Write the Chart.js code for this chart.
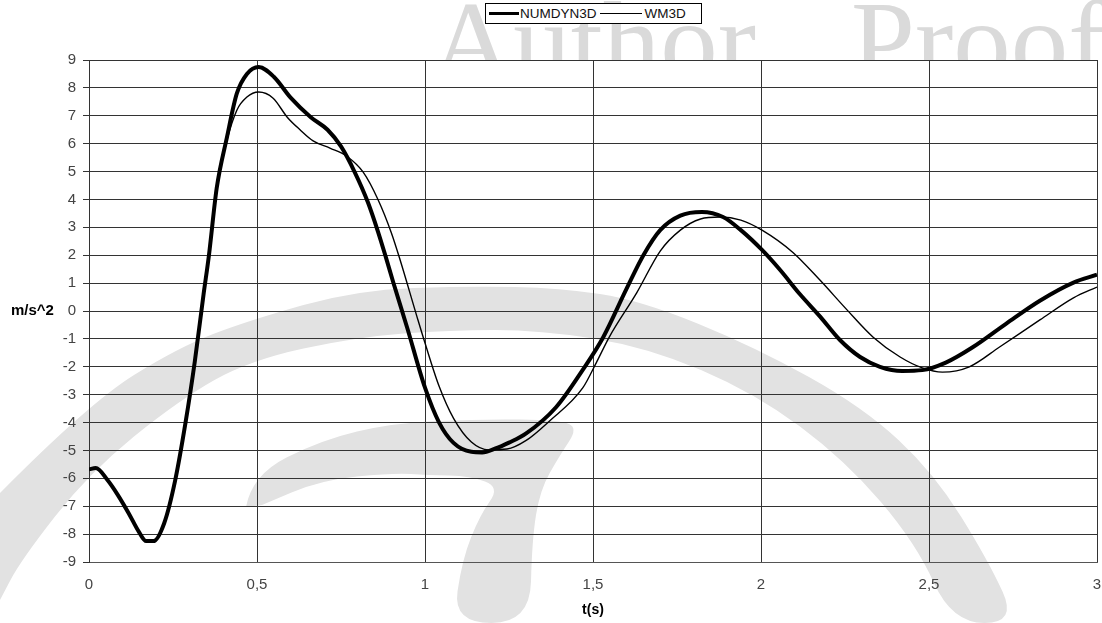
<!DOCTYPE html>
<html>
<head>
<meta charset="utf-8">
<script src="https://cdn.jsdelivr.net/npm/chart.js@4.4.1/dist/chart.umd.min.js"></script>
<style>
  body { margin: 0; background: #fff; }
  #wrap { position: relative; width: 1102px; height: 623px; }
  #legend {
    position: absolute; left: 485px; top: 3px; width: 217px; height: 21px;
    border: 1px solid #000; background: #fff; box-sizing: border-box;
    font: 13.5px "Liberation Sans", Arial, sans-serif; color: #111;
    display: flex; align-items: center; padding-left: 3px; white-space: nowrap;
  }
  .lg-line { display: inline-block; width: 30px; background: #000; margin-right: 1px; }
</style>
</head>
<body>
<div id="wrap">
  <canvas id="chart" width="1102" height="623"></canvas>
  <div id="legend">
    <span class="lg-line" style="height:3px"></span>NUMDYN3D
    <span class="lg-line" style="height:1px;width:42px;margin-left:3px;margin-right:3px"></span>WM3D
  </div>
</div>
<script>
// Data: waktu (s) dan percepatan (m/s^2)
const numdynT = [0, 0.02, 0.055, 0.086, 0.118, 0.149, 0.17, 0.192, 0.224, 0.256, 0.288, 0.315, 0.341, 0.357, 0.38, 0.41, 0.44, 0.47, 0.505, 0.55, 0.6, 0.66, 0.71, 0.75, 0.79, 0.83, 0.86, 0.883, 0.905, 0.947, 1.0, 1.042, 1.085, 1.138, 1.17, 1.21, 1.25, 1.3, 1.39, 1.47, 1.53, 1.6, 1.65, 1.7, 1.76, 1.824, 1.887, 1.94, 2.003, 2.057, 2.116, 2.176, 2.235, 2.295, 2.354, 2.42, 2.48, 2.55, 2.63, 2.73, 2.83, 2.93, 3.0];
const numdynA = [-5.68, -5.63, -6.06, -6.6, -7.25, -7.93, -8.25, -8.25, -7.6, -6.1, -3.95, -1.8, 0.6, 2.0, 4.4, 6.2, 7.8, 8.5, 8.75, 8.4, 7.65, 6.95, 6.5, 5.9, 5.0, 3.9, 2.85, 1.95, 1.05, -0.6, -2.75, -4.0, -4.73, -5.05, -5.07, -4.93, -4.72, -4.4, -3.45, -2.1, -0.95, 0.8, 2.0, 2.9, 3.42, 3.55, 3.37, 2.9, 2.19, 1.47, 0.6, -0.2, -1.04, -1.65, -2.0, -2.15, -2.12, -1.85, -1.3, -0.45, 0.37, 1.02, 1.3];

const wm3dT = [0, 0.02, 0.055, 0.086, 0.118, 0.149, 0.17, 0.192, 0.224, 0.256, 0.288, 0.315, 0.341, 0.357, 0.38, 0.41, 0.44, 0.47, 0.505, 0.548, 0.59, 0.628, 0.667, 0.717, 0.767, 0.816, 0.86, 0.9, 0.926, 0.976, 1.0, 1.042, 1.085, 1.138, 1.19, 1.244, 1.3, 1.37, 1.47, 1.51, 1.55, 1.63, 1.7, 1.76, 1.82, 1.878, 1.94, 2.003, 2.095, 2.176, 2.256, 2.333, 2.414, 2.48, 2.54, 2.62, 2.71, 2.83, 2.93, 3.0];
const wm3dA = [-5.68, -5.63, -6.06, -6.6, -7.25, -7.93, -8.25, -8.25, -7.6, -6.1, -3.95, -1.8, 0.6, 2.0, 4.4, 6.1, 7.2, 7.67, 7.85, 7.63, 6.95, 6.5, 6.1, 5.84, 5.55, 4.98, 4.0, 2.8, 1.83, -0.2, -1.15, -2.7, -3.85, -4.7, -4.98, -4.95, -4.65, -3.95, -2.75, -1.85, -0.9, 0.65, 2.15, 2.9, 3.3, 3.37, 3.26, 2.9, 2.1, 1.1, 0.04, -0.93, -1.65, -2.04, -2.19, -2.0, -1.29, -0.32, 0.47, 0.86];

const xTicks = [0, 0.5, 1, 1.5, 2, 2.5, 3];
const yMin = -9, yMax = 9;

function toPoints(ts, vs) {
  return ts.map((t, i) => ({ x: t, y: vs[i] }));
}

// Path halus lewat titik-titik (untuk watermark)
function smoothShape(ctx, pts) {
  ctx.beginPath();
  ctx.moveTo(pts[0][0], pts[0][1]);
  for (let i = 1; i < pts.length - 1; i++) {
    const mx = (pts[i][0] + pts[i + 1][0]) / 2;
    const my = (pts[i][1] + pts[i + 1][1]) / 2;
    ctx.quadraticCurveTo(pts[i][0], pts[i][1], mx, my);
  }
  const last = pts[pts.length - 1];
  ctx.lineTo(last[0], last[1]);
  ctx.closePath();
  ctx.fill();
}

// Watermark "Author Proof" + lengkungan abu-abu
const watermark = {
  id: 'watermark',
  beforeDraw(chart) {
    const ctx = chart.ctx;
    ctx.save();
    ctx.fillStyle = '#e2e2e2';
    smoothShape(ctx, [
      [0, 493], [89, 403], [179, 347], [250, 320], [357, 290], [470, 286], [560, 288], [640, 300],
      [755, 347], [863, 407], [934, 473], [988, 560], [1017, 623],
      [952, 623], [916, 543], [845, 460], [755, 393], [647, 347], [540, 330], [450, 330],
      [357, 337], [250, 360], [179, 400], [89, 473], [21, 560], [0, 600]
    ]);
    smoothShape(ctx, [
      [246, 507], [252, 475], [321, 440], [393, 423], [480, 419], [560, 420], [578, 428],
      [560, 455], [540, 490], [532, 540], [530, 623], [453, 623], [462, 560], [480, 515],
      [500, 487], [470, 476], [428, 475], [393, 473], [321, 480], [262, 505]
    ]);
    ctx.beginPath();
    ctx.rect(0, 0, chart.width, chart.chartArea.top);
    ctx.clip();
    ctx.fillStyle = '#dadada';
    ctx.font = '115px "Liberation Serif", "Times New Roman", serif';
    ctx.textBaseline = 'alphabetic';
    ctx.textAlign = 'right';
    ctx.fillText('Author', 756, 80);
    ctx.textAlign = 'left';
    ctx.fillText('Proof', 851, 80);
    ctx.restore();
  },
  afterDraw(chart) {
    const ctx = chart.ctx;
    const y0 = chart.scales.y.getPixelForValue(0);
    ctx.save();
    ctx.fillStyle = '#000';
    ctx.font = 'bold 15px "Liberation Sans", Arial, sans-serif';
    ctx.textBaseline = 'middle';
    ctx.textAlign = 'left';
    ctx.fillText('m/s^2', 11, y0);
    ctx.restore();
  }
};

const ctx = document.getElementById('chart').getContext('2d');
new Chart(ctx, {
  type: 'line',
  data: {
    datasets: [
      {
        label: 'NUMDYN3D',
        data: toPoints(numdynT, numdynA),
        borderColor: '#000',
        borderWidth: 4,
        pointRadius: 0,
        cubicInterpolationMode: 'monotone',
        fill: false,
      },
      {
        label: 'WM3D',
        data: toPoints(wm3dT, wm3dA),
        borderColor: '#000',
        borderWidth: 1.4,
        pointRadius: 0,
        cubicInterpolationMode: 'monotone',
        fill: false,
      },
    ],
  },
  options: {
    responsive: false,
    animation: false,
    layout: { padding: { top: 60, right: 5, bottom: 0, left: 0 } },
    plugins: {
      legend: { display: false },
      tooltip: { enabled: false },
    },
    scales: {
      x: {
        type: 'linear',
        min: 0,
        max: 3,
        afterBuildTicks: (axis) => { axis.ticks = xTicks.map(v => ({ value: v })); },
        afterFit: (axis) => {
          axis.height = 61;
          axis.paddingLeft = 0;
          axis.paddingRight = 0;
        },
        ticks: {
          color: '#444',
          font: { family: '"Liberation Sans", Arial, sans-serif', size: 15 },
          padding: 14,
          maxRotation: 0,
          callback: (v) => String(v).replace('.', ','),
        },
        grid: { color: '#333', lineWidth: 1, drawTicks: false },
        border: { color: '#555' },
        title: {
          display: true,
          text: 't(s)',
          color: '#000',
          font: { family: '"Liberation Sans", Arial, sans-serif', size: 14, weight: 'bold' },
          padding: { top: 0, bottom: 4 },
        },
      },
      y: {
        min: yMin,
        max: yMax,
        afterFit: (axis) => {
          axis.width = 89;
          axis.paddingTop = 0;
          axis.paddingBottom = 0;
        },
        ticks: {
          stepSize: 1,
          color: '#444',
          font: { family: '"Liberation Sans", Arial, sans-serif', size: 15 },
          padding: 7,
        },
        grid: { color: '#333', lineWidth: 1, tickLength: 6 },
        border: { color: '#333' },
      },
    },
  },
  plugins: [watermark],
});
</script>
</body>
</html>
